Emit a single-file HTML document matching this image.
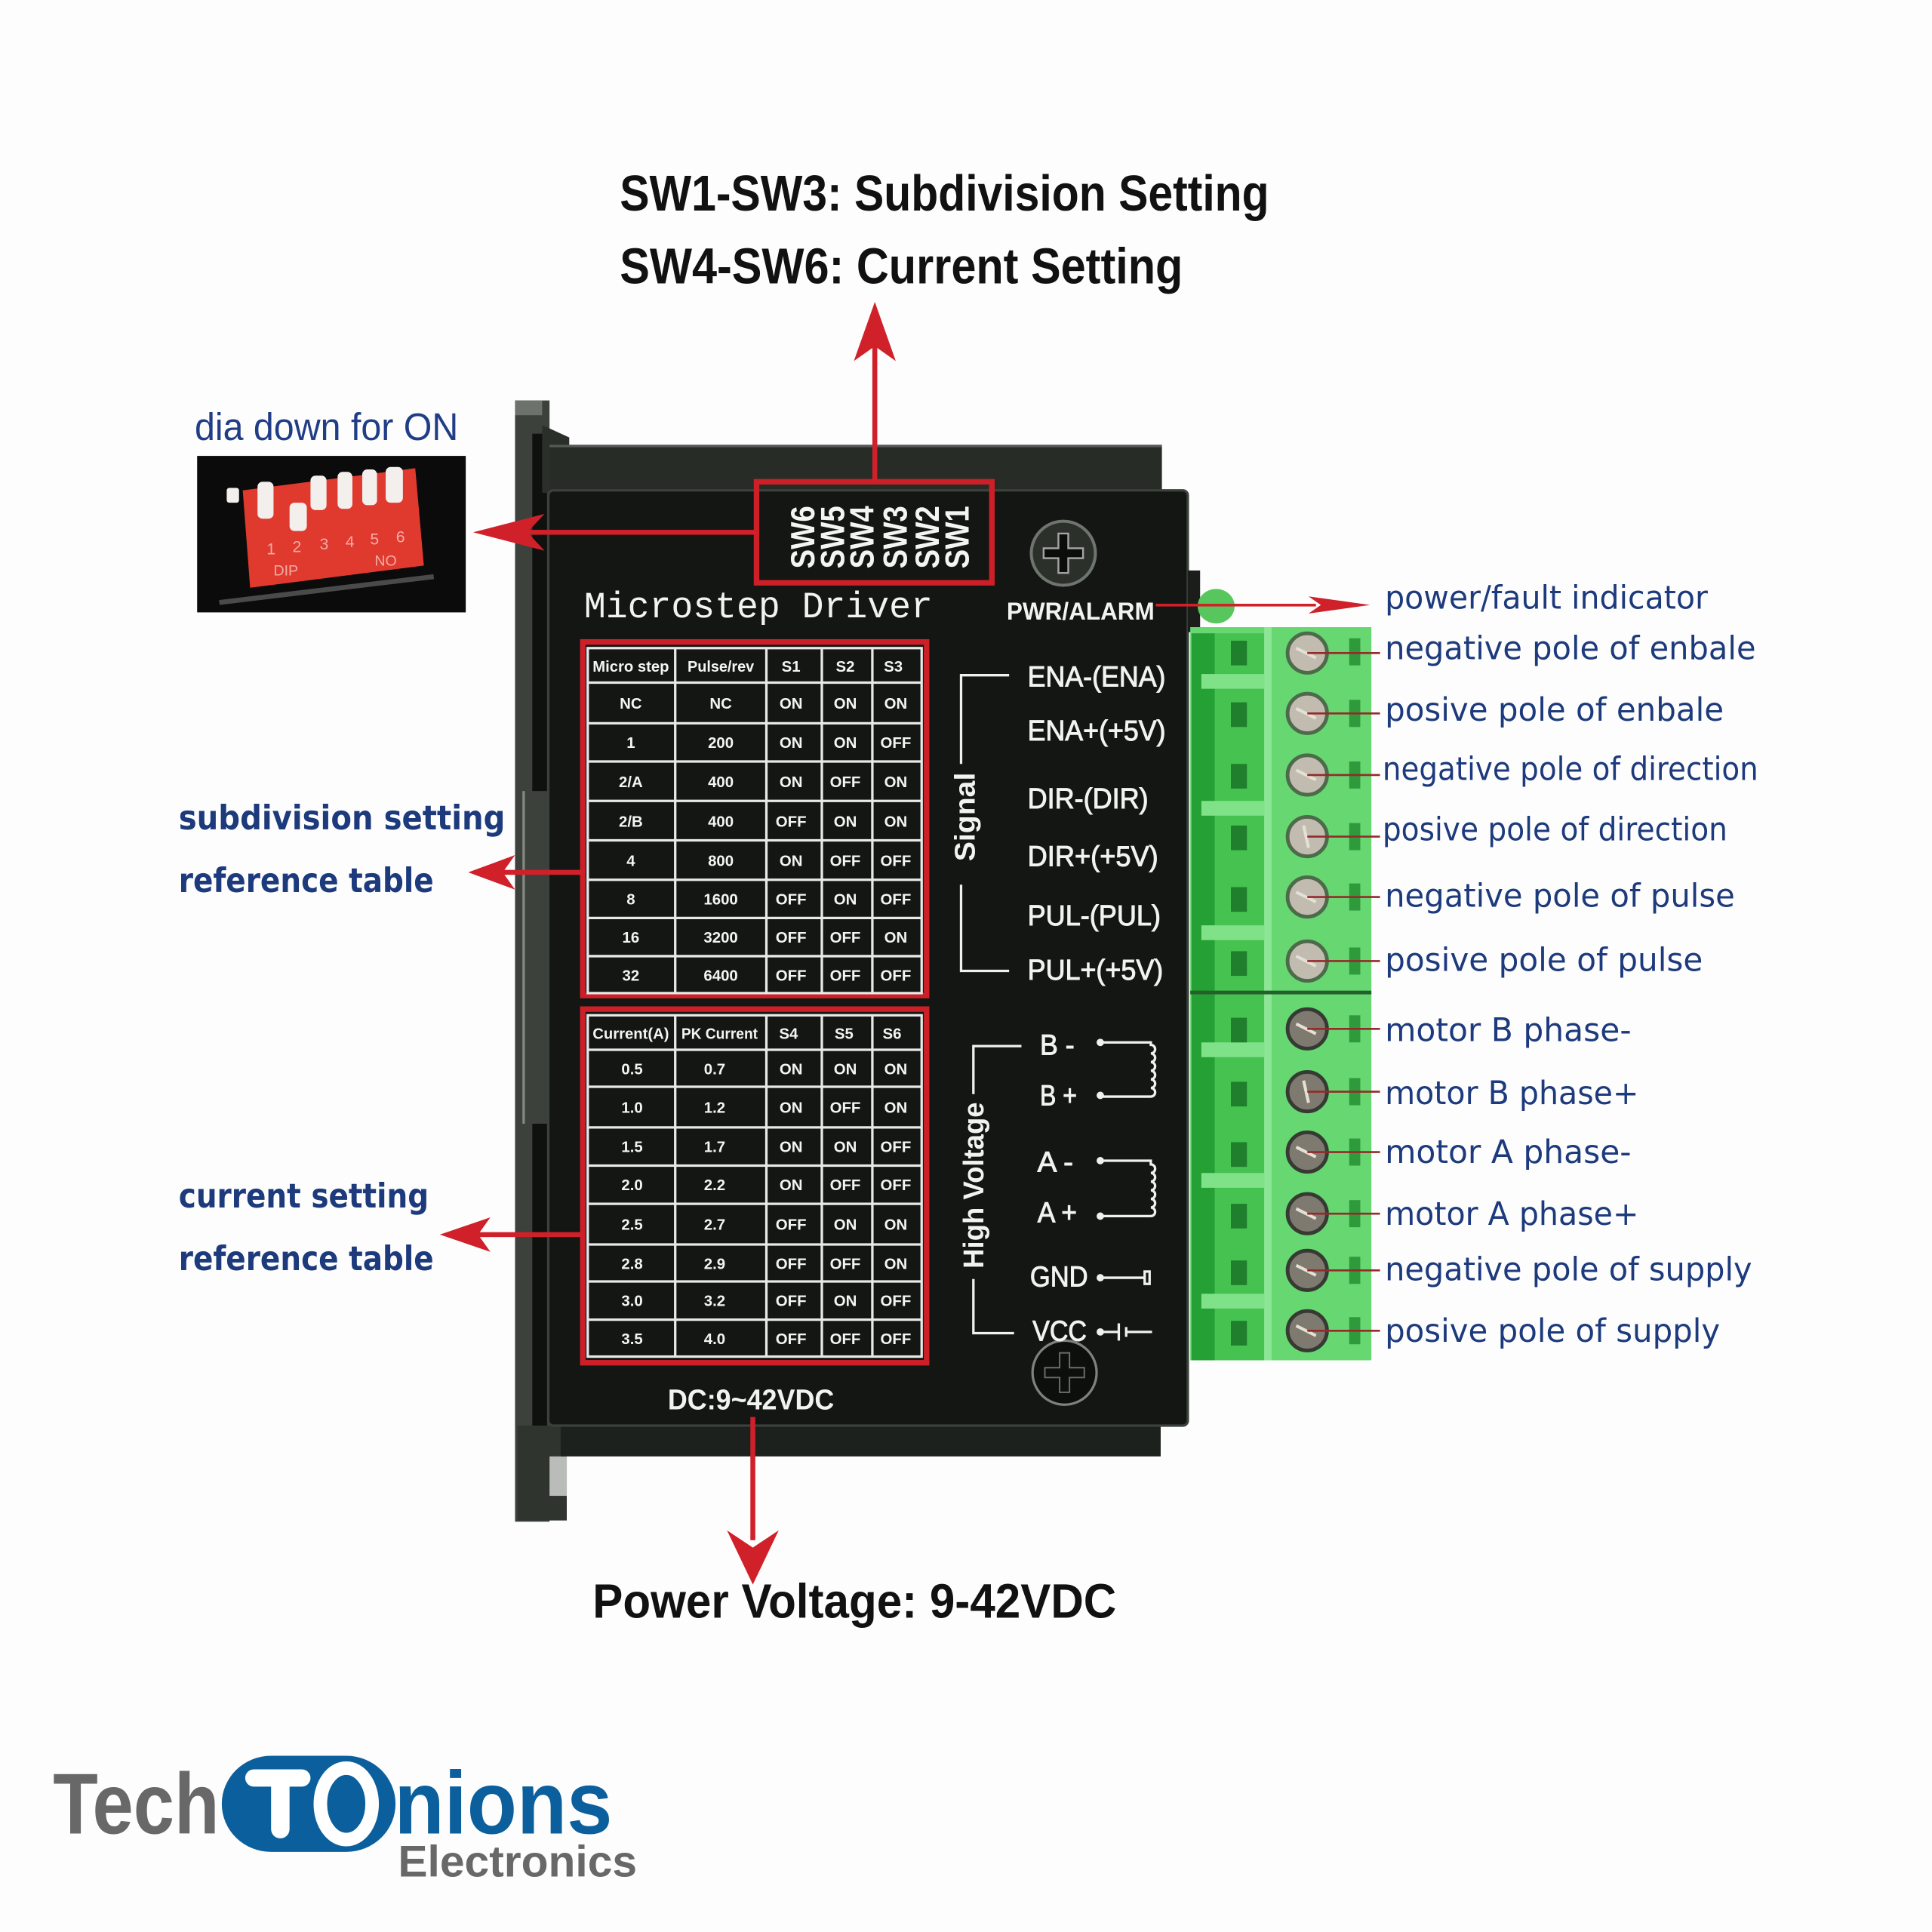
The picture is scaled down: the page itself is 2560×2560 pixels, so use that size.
<!DOCTYPE html>
<html><head><meta charset="utf-8">
<style>
html,body{margin:0;padding:0;background:#fdfdfd;}
svg{display:block;}
</style></head><body>
<svg xmlns="http://www.w3.org/2000/svg" width="2560" height="2560" viewBox="0 0 1568 1568">
<rect width="1568" height="1568" fill="#fdfdfd"/>

<!-- ===== Top titles ===== -->
<g font-family="Liberation Sans, sans-serif" font-weight="bold" fill="#111">
  <text x="503" y="171" font-size="41" textLength="527" lengthAdjust="spacingAndGlyphs">SW1-SW3: Subdivision Setting</text>
  <text x="503" y="230" font-size="41" textLength="457" lengthAdjust="spacingAndGlyphs">SW4-SW6: Current Setting</text>
  <text x="481" y="1313" font-size="39" textLength="425" lengthAdjust="spacingAndGlyphs">Power Voltage: 9-42VDC</text>
</g>

<!-- ===== DIP switch photo ===== -->
<text x="158" y="357" font-family="Liberation Sans, sans-serif" font-size="31" fill="#203d86" textLength="214" lengthAdjust="spacingAndGlyphs">dia down for ON</text>
<rect x="160" y="370" width="218" height="127" fill="#0b0b0b"/>
<polygon points="197,398 337,380 344,459 203,477" fill="#e03a2f"/>
<line x1="178" y1="489" x2="352" y2="468" stroke="#4a4a4a" stroke-width="4"/>
<g fill="#f3efec">
  <rect x="184" y="396" width="10" height="12" rx="2"/>
  <rect x="209" y="391" width="13" height="30" rx="4"/>
  <rect x="235" y="408" width="14" height="23" rx="4"/>
  <rect x="252" y="386" width="13" height="28" rx="4"/>
  <rect x="274" y="383" width="12" height="30" rx="4"/>
  <rect x="294" y="381" width="12" height="29" rx="4"/>
  <rect x="313" y="379" width="14" height="29" rx="4"/>
</g>
<g font-family="Liberation Sans, sans-serif" font-size="13" fill="#f4aaa4" text-anchor="middle">
  <text x="220" y="450">1</text><text x="241" y="448">2</text><text x="263" y="446">3</text>
  <text x="284" y="444">4</text><text x="304" y="442">5</text><text x="325" y="440">6</text>
  <text x="232" y="467" font-size="12">DIP</text><text x="313" y="459" font-size="12">NO</text>
</g>

<!-- ===== Left blue labels ===== -->
<g font-family="DejaVu Sans, sans-serif" font-weight="bold" fill="#1c3a7c" font-size="27">
  <text x="145" y="673" textLength="265" lengthAdjust="spacingAndGlyphs">subdivision setting</text>
  <text x="145" y="724" textLength="207" lengthAdjust="spacingAndGlyphs">reference table</text>
  <text x="145" y="980" textLength="203" lengthAdjust="spacingAndGlyphs">current setting</text>
  <text x="145" y="1031" textLength="207" lengthAdjust="spacingAndGlyphs">reference table</text>
</g>

<!-- ===== Driver body ===== -->
<rect x="418" y="325" width="28" height="910" fill="#3c413c"/>
<rect x="418" y="325" width="22" height="12" fill="#6d726d"/>
<rect x="432" y="352" width="12" height="290" fill="#0f110f"/>
<rect x="424" y="642" width="2" height="270" fill="#858a85"/>
<rect x="432" y="912" width="12" height="248" fill="#0f110f"/>
<rect x="420" y="1157" width="40" height="77" fill="#2f342f"/>
<rect x="446" y="1182" width="14" height="32" fill="#b9bcb9"/>
<polygon points="440,345 462,355 462,400 440,400" fill="#2a2f2a"/>
<rect x="446" y="361" width="497" height="40" fill="#272c27"/>
<rect x="446" y="361" width="497" height="2" fill="#555a55"/>
<rect x="455" y="1155" width="487" height="27" fill="#1d211d"/>
<rect x="445" y="398" width="519" height="759" rx="4" fill="#131613" stroke="#3c413c" stroke-width="2"/>

<!-- screws -->
<g transform="translate(863,449)">
  <circle r="26" fill="#2b302b" stroke="#6f746f" stroke-width="2.5"/>
  <path d="M-4 -16 H4 V-4 H16 V4 H4 V16 H-4 V4 H-16 V-4 H-4Z" fill="#0b0d0b" stroke="#a0a5a0" stroke-width="1.5"/>
</g>
<g transform="translate(864,1114)">
  <circle r="26" fill="#0d0f0d" stroke="#7d827d" stroke-width="2"/>
  <path d="M-4 -16 H4 V-4 H16 V4 H4 V16 H-4 V4 H-16 V-4 H-4Z" fill="#0d0f0d" stroke="#6a6f6a" stroke-width="1.2"/>
</g>

<!-- Microstep Driver / PWR -->
<text x="474" y="501" font-family="Liberation Mono, monospace" font-size="30" fill="#f2f2f2" textLength="283" lengthAdjust="spacingAndGlyphs">Microstep Driver</text>
<text x="817" y="503" font-family="Liberation Sans, sans-serif" font-weight="bold" font-size="20" fill="#f2f2f2" textLength="120" lengthAdjust="spacingAndGlyphs">PWR/ALARM</text>

<!-- SW box -->
<rect x="614" y="391" width="191" height="82" fill="none" stroke="#cc1f27" stroke-width="4.5"/>
<g font-family="Liberation Sans, sans-serif" font-weight="bold" font-size="27" fill="#f4f4f4" text-anchor="middle">
  <text transform="translate(661,436) rotate(-90)" textLength="51" lengthAdjust="spacingAndGlyphs">SW6</text>
  <text transform="translate(685,436) rotate(-90)" textLength="51" lengthAdjust="spacingAndGlyphs">SW5</text>
  <text transform="translate(709,436) rotate(-90)" textLength="51" lengthAdjust="spacingAndGlyphs">SW4</text>
  <text transform="translate(736,436) rotate(-90)" textLength="51" lengthAdjust="spacingAndGlyphs">SW3</text>
  <text transform="translate(762,436) rotate(-90)" textLength="51" lengthAdjust="spacingAndGlyphs">SW2</text>
  <text transform="translate(786,436) rotate(-90)" textLength="51" lengthAdjust="spacingAndGlyphs">SW1</text>
</g>

<!-- ===== Table 1 ===== -->
<rect x="473" y="521" width="279" height="287" fill="none" stroke="#cc1f27" stroke-width="4.5"/>
<g stroke="#e8e8e8" stroke-width="2" fill="none">
  <rect x="477" y="526" width="271" height="280"/>
  <path d="M548 526V806 M622 526V806 M667 526V806 M708 526V806"/>
  <path d="M477 554H748 M477 587H748 M477 618H748 M477 650H748 M477 682H748 M477 714H748 M477 745H748 M477 776H748"/>
</g>
<g font-family="Liberation Sans, sans-serif" font-weight="bold" font-size="12.5" fill="#f4f4f4" text-anchor="middle">
  <text x="512" y="545" textLength="62" lengthAdjust="spacingAndGlyphs">Micro step</text>
  <text x="585" y="545" textLength="54" lengthAdjust="spacingAndGlyphs">Pulse/rev</text>
  <text x="642" y="545">S1</text><text x="686" y="545">S2</text><text x="725" y="545">S3</text>

  <text x="512" y="575">NC</text><text x="585" y="575">NC</text><text x="642" y="575">ON</text><text x="686" y="575">ON</text><text x="727" y="575">ON</text>
  <text x="512" y="607">1</text><text x="585" y="607">200</text><text x="642" y="607">ON</text><text x="686" y="607">ON</text><text x="727" y="607">OFF</text>
  <text x="512" y="639">2/A</text><text x="585" y="639">400</text><text x="642" y="639">ON</text><text x="686" y="639">OFF</text><text x="727" y="639">ON</text>
  <text x="512" y="671">2/B</text><text x="585" y="671">400</text><text x="642" y="671">OFF</text><text x="686" y="671">ON</text><text x="727" y="671">ON</text>
  <text x="512" y="703">4</text><text x="585" y="703">800</text><text x="642" y="703">ON</text><text x="686" y="703">OFF</text><text x="727" y="703">OFF</text>
  <text x="512" y="734">8</text><text x="585" y="734">1600</text><text x="642" y="734">OFF</text><text x="686" y="734">ON</text><text x="727" y="734">OFF</text>
  <text x="512" y="765">16</text><text x="585" y="765">3200</text><text x="642" y="765">OFF</text><text x="686" y="765">OFF</text><text x="727" y="765">ON</text>
  <text x="512" y="796">32</text><text x="585" y="796">6400</text><text x="642" y="796">OFF</text><text x="686" y="796">OFF</text><text x="727" y="796">OFF</text>
</g>

<!-- ===== Table 2 ===== -->
<rect x="473" y="819" width="279" height="287" fill="none" stroke="#cc1f27" stroke-width="4.5"/>
<g stroke="#e8e8e8" stroke-width="2" fill="none">
  <rect x="477" y="824" width="271" height="277"/>
  <path d="M548 824V1101 M622 824V1101 M667 824V1101 M708 824V1101"/>
  <path d="M477 852H748 M477 882H748 M477 915H748 M477 946H748 M477 977H748 M477 1010H748 M477 1040H748 M477 1071H748"/>
</g>
<g font-family="Liberation Sans, sans-serif" font-weight="bold" font-size="12.5" fill="#f4f4f4" text-anchor="middle">
  <text x="512" y="843" textLength="62" lengthAdjust="spacingAndGlyphs">Current(A)</text>
  <text x="584" y="843" textLength="62" lengthAdjust="spacingAndGlyphs">PK Current</text>
  <text x="640" y="843">S4</text><text x="685" y="843">S5</text><text x="724" y="843">S6</text>

  <text x="513" y="872">0.5</text><text x="580" y="872">0.7</text><text x="642" y="872">ON</text><text x="686" y="872">ON</text><text x="727" y="872">ON</text>
  <text x="513" y="903">1.0</text><text x="580" y="903">1.2</text><text x="642" y="903">ON</text><text x="686" y="903">OFF</text><text x="727" y="903">ON</text>
  <text x="513" y="935">1.5</text><text x="580" y="935">1.7</text><text x="642" y="935">ON</text><text x="686" y="935">ON</text><text x="727" y="935">OFF</text>
  <text x="513" y="966">2.0</text><text x="580" y="966">2.2</text><text x="642" y="966">ON</text><text x="686" y="966">OFF</text><text x="727" y="966">OFF</text>
  <text x="513" y="998">2.5</text><text x="580" y="998">2.7</text><text x="642" y="998">OFF</text><text x="686" y="998">ON</text><text x="727" y="998">ON</text>
  <text x="513" y="1030">2.8</text><text x="580" y="1030">2.9</text><text x="642" y="1030">OFF</text><text x="686" y="1030">OFF</text><text x="727" y="1030">ON</text>
  <text x="513" y="1060">3.0</text><text x="580" y="1060">3.2</text><text x="642" y="1060">OFF</text><text x="686" y="1060">ON</text><text x="727" y="1060">OFF</text>
  <text x="513" y="1091">3.5</text><text x="580" y="1091">4.0</text><text x="642" y="1091">OFF</text><text x="686" y="1091">OFF</text><text x="727" y="1091">OFF</text>
</g>

<text x="542" y="1144" font-family="Liberation Sans, sans-serif" font-weight="bold" font-size="23" fill="#f2f2f2" textLength="135" lengthAdjust="spacingAndGlyphs">DC:9~42VDC</text>

<!-- ===== Signal bracket & labels ===== -->
<g stroke="#f0f0f0" stroke-width="2" fill="none">
  <path d="M819 548H780V620 M780 718V788H819"/>
  <path d="M829 849H790V888 M790 1038V1082H823"/>
</g>
<g font-family="Liberation Sans, sans-serif" font-weight="bold" font-size="23" fill="#f2f2f2" text-anchor="middle">
  <text transform="translate(791,663) rotate(-90)" textLength="72" lengthAdjust="spacingAndGlyphs">Signal</text>
  <text transform="translate(798,962) rotate(-90)" textLength="135" lengthAdjust="spacingAndGlyphs">High Voltage</text>
</g>
<g font-family="Liberation Sans, sans-serif" font-size="23" fill="#f2f2f2" stroke="#f2f2f2" stroke-width="0.6">
  <text x="834" y="557" textLength="112" lengthAdjust="spacingAndGlyphs">ENA-(ENA)</text>
  <text x="834" y="601" textLength="112" lengthAdjust="spacingAndGlyphs">ENA+(+5V)</text>
  <text x="834" y="656" textLength="98" lengthAdjust="spacingAndGlyphs">DIR-(DIR)</text>
  <text x="834" y="703" textLength="106" lengthAdjust="spacingAndGlyphs">DIR+(+5V)</text>
  <text x="834" y="751" textLength="108" lengthAdjust="spacingAndGlyphs">PUL-(PUL)</text>
  <text x="834" y="795" textLength="110" lengthAdjust="spacingAndGlyphs">PUL+(+5V)</text>
  <text x="844" y="856" textLength="28" lengthAdjust="spacingAndGlyphs">B -</text>
  <text x="844" y="897" textLength="30" lengthAdjust="spacingAndGlyphs">B +</text>
  <text x="842" y="951" textLength="29" lengthAdjust="spacingAndGlyphs">A -</text>
  <text x="842" y="992" textLength="32" lengthAdjust="spacingAndGlyphs">A +</text>
  <text x="836" y="1044" textLength="47" lengthAdjust="spacingAndGlyphs">GND</text>
  <text x="838" y="1088" textLength="44" lengthAdjust="spacingAndGlyphs">VCC</text>
</g>
<!-- coil / symbols -->
<g stroke="#f0f0f0" stroke-width="2" fill="none">
  <path d="M893 846H934V848 a3.5 3.5 0 0 1 0 7 a3.5 3.5 0 0 1 0 7 a3.5 3.5 0 0 1 0 7 a3.5 3.5 0 0 1 0 7 a3.5 3.5 0 0 1 0 7 a3.5 3.5 0 0 1 0 7 H893"/>
  <path d="M893 942H934V945 a3.5 3.5 0 0 1 0 7 a3.5 3.5 0 0 1 0 7 a3.5 3.5 0 0 1 0 7 a3.5 3.5 0 0 1 0 7 a3.5 3.5 0 0 1 0 7 a3.5 3.5 0 0 1 0 7 H893"/>
  <path d="M893 1037H929"/>
  <rect x="929" y="1032" width="4" height="10"/>
  <path d="M893 1081H908 M915 1081H935 M908 1074V1088 M914 1077V1085"/>
</g>
<g fill="#f0f0f0">
  <circle cx="893" cy="846" r="3"/><circle cx="893" cy="889" r="3"/>
  <circle cx="893" cy="942" r="3"/><circle cx="893" cy="987" r="3"/>
  <circle cx="893" cy="1037" r="3"/><circle cx="893" cy="1081" r="3"/>
</g>

<!-- ===== LED & terminal block ===== -->
<rect x="964" y="463" width="10" height="50" fill="#1a1d1a"/>
<ellipse cx="987" cy="492" rx="15" ry="14" fill="#57c65c"/>
<rect x="966" y="509" width="147" height="595" fill="#66d771"/>
<rect x="967" y="514" width="19" height="590" fill="#25a034"/>
<rect x="986" y="514" width="40" height="590" fill="#45c250"/>
<rect x="1026" y="509" width="6" height="595" fill="#8ce695"/>
<g fill="#7fe188">
  <rect x="975" y="547" width="51" height="12"/>
  <rect x="975" y="650" width="51" height="12"/>
  <rect x="975" y="751" width="51" height="12"/>
  <rect x="975" y="846" width="51" height="12"/>
  <rect x="975" y="952" width="51" height="12"/>
  <rect x="975" y="1050" width="51" height="12"/>
</g>
<g fill="#1f7f2c">
  <rect x="999" y="520" width="13" height="20"/><rect x="999" y="570" width="13" height="20"/>
  <rect x="999" y="620" width="13" height="20"/><rect x="999" y="670" width="13" height="20"/>
  <rect x="999" y="720" width="13" height="20"/><rect x="999" y="772" width="13" height="20"/>
  <rect x="999" y="826" width="13" height="20"/><rect x="999" y="878" width="13" height="20"/>
  <rect x="999" y="927" width="13" height="20"/><rect x="999" y="977" width="13" height="20"/>
  <rect x="999" y="1023" width="13" height="20"/><rect x="999" y="1072" width="13" height="20"/>
</g>
<rect x="966" y="804" width="147" height="3" fill="#245f2c"/>
<g fill="#2f9a3b">
  <rect x="1095" y="518" width="9" height="22"/><rect x="1095" y="568" width="9" height="22"/>
  <rect x="1095" y="618" width="9" height="22"/><rect x="1095" y="668" width="9" height="22"/>
  <rect x="1095" y="717" width="9" height="22"/><rect x="1095" y="769" width="9" height="22"/>
  <rect x="1095" y="824" width="9" height="22"/><rect x="1095" y="875" width="9" height="22"/>
  <rect x="1095" y="924" width="9" height="22"/><rect x="1095" y="974" width="9" height="22"/>
  <rect x="1095" y="1020" width="9" height="22"/><rect x="1095" y="1069" width="9" height="22"/>
</g>
<!-- terminal screws -->
<g stroke-width="3">
  <g fill="#c2bcb0" stroke="#4d6a4a">
    <circle cx="1061" cy="530" r="16"/><circle cx="1061" cy="579" r="16"/>
    <circle cx="1061" cy="629" r="16"/><circle cx="1061" cy="679" r="16"/>
    <circle cx="1061" cy="728" r="16"/><circle cx="1061" cy="780" r="16"/>
  </g>
  <g fill="#7e7a70" stroke="#363a33">
    <circle cx="1061" cy="835" r="16"/><circle cx="1061" cy="886" r="16"/>
    <circle cx="1061" cy="935" r="16"/><circle cx="1061" cy="985" r="16"/>
    <circle cx="1061" cy="1031" r="16"/><circle cx="1061" cy="1080" r="16"/>
  </g>
</g>
<g stroke="#e4e0d6" stroke-width="2.5">
  <path d="M1052 526L1068 534 M1052 575L1068 583 M1052 625L1068 633 M1058 670L1062 688 M1052 724L1068 732 M1052 776L1068 784"/>
  <path d="M1052 831L1068 839 M1058 877L1062 895 M1052 931L1068 939 M1052 981L1068 989 M1052 1027L1068 1035 M1052 1076L1068 1084"/>
</g>
<g stroke="#952a2a" stroke-width="1.6">
  <path d="M1061 530H1120 M1061 579H1120 M1061 629H1120 M1061 679H1120 M1061 728H1120 M1061 780H1120"/>
  <path d="M1061 835H1120 M1061 886H1120 M1061 935H1120 M1061 985H1120 M1061 1031H1120 M1061 1080H1120"/>
</g>

<!-- ===== Right blue labels ===== -->
<g font-family="DejaVu Sans, sans-serif" font-size="26" fill="#1d3a7d">
  <text x="1124" y="494" textLength="262" lengthAdjust="spacingAndGlyphs">power/fault indicator</text>
  <text x="1124" y="535" textLength="301" lengthAdjust="spacingAndGlyphs">negative pole of enbale</text>
  <text x="1124" y="585" textLength="275" lengthAdjust="spacingAndGlyphs">posive pole of enbale</text>
  <text x="1122" y="633" textLength="305" lengthAdjust="spacingAndGlyphs">negative pole of direction</text>
  <text x="1122" y="682" textLength="280" lengthAdjust="spacingAndGlyphs">posive pole of direction</text>
  <text x="1124" y="736" textLength="284" lengthAdjust="spacingAndGlyphs">negative pole of pulse</text>
  <text x="1124" y="788" textLength="258" lengthAdjust="spacingAndGlyphs">posive pole of pulse</text>
  <text x="1124" y="845" textLength="200" lengthAdjust="spacingAndGlyphs">motor B phase-</text>
  <text x="1124" y="896" textLength="206" lengthAdjust="spacingAndGlyphs">motor B phase+</text>
  <text x="1124" y="944" textLength="200" lengthAdjust="spacingAndGlyphs">motor A phase-</text>
  <text x="1124" y="994" textLength="206" lengthAdjust="spacingAndGlyphs">motor A phase+</text>
  <text x="1124" y="1039" textLength="298" lengthAdjust="spacingAndGlyphs">negative pole of supply</text>
  <text x="1124" y="1089" textLength="272" lengthAdjust="spacingAndGlyphs">posive pole of supply</text>
</g>

<!-- ===== Red arrows ===== -->
<g fill="#d0202a" stroke="none">
  <rect x="708" y="268" width="4" height="123"/>
  <path d="M710 245 L727 293 L710 281 L693 293 Z"/>
  <rect x="420" y="430" width="194" height="4"/>
  <path d="M384 432 L442 417 L428 432 L442 447 Z"/>
  <rect x="400" y="706" width="73" height="4"/>
  <path d="M380 708 L418 694 L408 708 L418 722 Z"/>
  <rect x="385" y="1000" width="88" height="4"/>
  <path d="M357 1002 L398 988 L388 1002 L398 1016 Z"/>
  <rect x="609" y="1150" width="4" height="100"/>
  <path d="M611 1286 L590 1242 L611 1256 L632 1242 Z"/>
  <rect x="938" y="490" width="130" height="2.2"/>
  <path d="M1112 491 L1062 484 L1072 491 L1062 498 Z"/>
</g>

<!-- ===== Logo ===== -->
<text x="43" y="1488" font-family="Liberation Sans, sans-serif" font-weight="bold" font-size="70" fill="#686868" textLength="135" lengthAdjust="spacingAndGlyphs">Tech</text>
<rect x="180" y="1425" width="141" height="78" rx="40" ry="39" fill="#0b5f9c"/>
<g fill="#ffffff">
  <rect x="199" y="1436" width="53" height="14" rx="7"/>
  <rect x="220" y="1436" width="15" height="56" rx="7.5"/>
</g>
<ellipse cx="281" cy="1464" rx="21" ry="29" fill="none" stroke="#ffffff" stroke-width="11"/>
<text x="320" y="1488" font-family="Liberation Sans, sans-serif" font-weight="bold" font-size="72" fill="#0b5f9c" textLength="177" lengthAdjust="spacingAndGlyphs">nions</text>
<text x="323" y="1523" font-family="Liberation Sans, sans-serif" font-weight="bold" font-size="36" fill="#686868" textLength="194" lengthAdjust="spacingAndGlyphs">Electronics</text>
</svg>
</body></html>
